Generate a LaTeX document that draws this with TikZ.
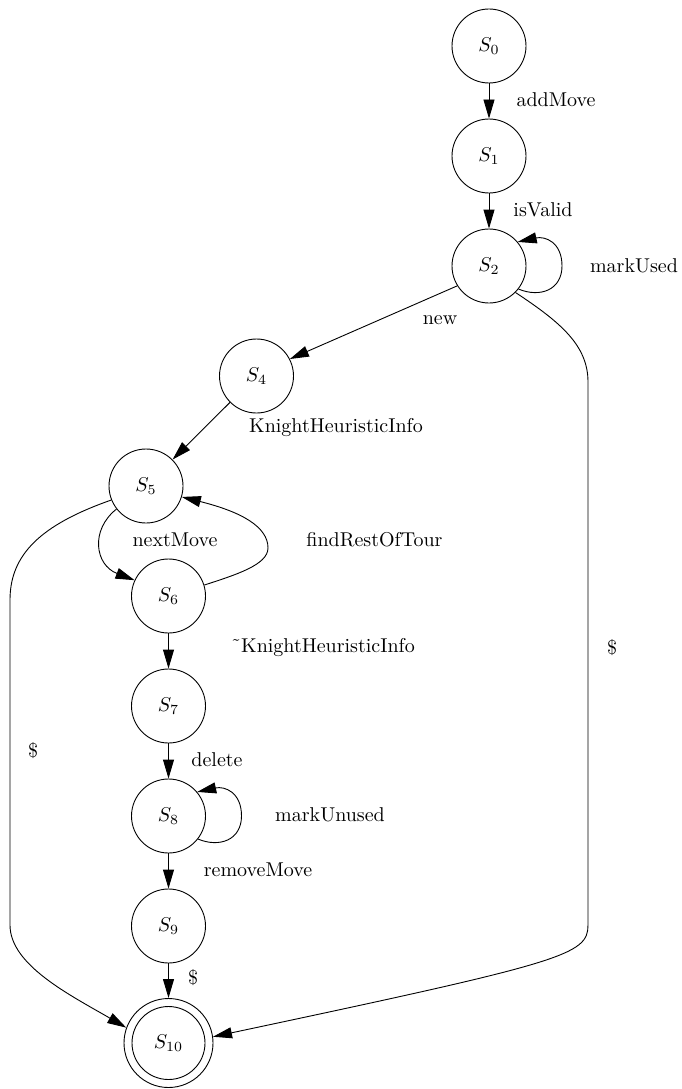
\documentclass[tikz,border=0pt]{standalone}
\usepackage{graphicx}
\usetikzlibrary{arrows.meta}
\newcommand{\sbx}[1]{\scalebox{2}{#1}}
\begin{document}
\begin{tikzpicture}[x=1pt,y=-1pt,
  state/.style={circle,draw,line width=0.9pt,minimum size=74pt,inner sep=0pt},
  final/.style={state,minimum size=89pt},
  lbl/.style={inner sep=0pt},
  edge/.style={line width=0.9pt,-{Triangle[length=19pt,width=11pt]}}]
\useasboundingbox (0,0) rectangle (681,1089);
% states
\node[state] (S0) at (489,46) {\sbx{$S_0$}};
\node[state] (S1) at (489,156) {\sbx{$S_1$}};
\node[state] (S2) at (489,266) {\sbx{$S_2$}};
\node[state] (S4) at (256.5,376) {\sbx{$S_4$}};
\node[state] (S5) at (146,486) {\sbx{$S_5$}};
\node[state] (S6) at (168.5,596) {\sbx{$S_6$}};
\node[state] (S7) at (168.5,706) {\sbx{$S_7$}};
\node[state] (S8) at (168.5,816) {\sbx{$S_8$}};
\node[state] (S9) at (168.5,926) {\sbx{$S_9$}};
\node[final] (S10) at (168.5,1043) {\sbx{$S_{10}$}};
\draw[line width=0.9pt] (S10.center) circle (36.5pt);
% edges
\draw[edge] (S0) -- (S1);
\draw[edge] (S1) -- (S2);
\draw[edge] (S2.-38) .. controls (540,298) and (562,290) .. (562,266) .. controls (562,242) and (545,236) .. (S2.40);
\draw[edge] (S2.212) -- (S4.27);
\draw[edge] (S2.-45) .. controls (560,322) and (588,345) .. (588,382) -- (588,925) .. controls (588,955) and (565,962) .. (S10.8);
\draw[edge] (S4) -- (S5);
\draw[edge] (S5.218) .. controls (90,530) and (95,565) .. (S6.155);
\draw[edge] (S6.17) .. controls (235,575) and (268,565) .. (268,548) .. controls (268,527) and (242,512) .. (S5.-17);
\draw[edge] (S5.202) .. controls (40,525) and (10,555) .. (10,600) -- (10,925) .. controls (10,965) and (70,995) .. (S10.160);
\draw[edge] (S6) -- (S7);
\draw[edge] (S7) -- (S8);
\draw[edge] (S8.-38) .. controls (219.5,848) and (241.5,840) .. (241.5,816) .. controls (241.5,792) and (224.5,786) .. (S8.40);
\draw[edge] (S8) -- (S9);
\draw[edge] (S9) -- (S10);
% labels
\node[lbl] (l01) at (556,100) {\sbx{addMove}};
\node[lbl] (l12) at (543,210) {\sbx{isValid}};
\node[lbl] (l22) at (634,266) {\sbx{markUsed}};
\node[lbl] (l24) at (440,320) {\sbx{new}};
\node[lbl] (l210) at (612,648) {\sbx{\$}};
\node[lbl] (l45) at (336,428) {\sbx{KnightHeuristicInfo}};
\node[lbl] (l56) at (175,540) {\sbx{nextMove}};
\node[lbl] (l65) at (374.5,540) {\sbx{findRestOfTour}};
\node[lbl] (l510) at (33,751) {\sbx{\$}};
\node[lbl] (l67) at (323,648) {\sbx{˜KnightHeuristicInfo}};
\node[lbl] (l78) at (217,760) {\sbx{delete}};
\node[lbl] (l88) at (330,815) {\sbx{markUnused}};
\node[lbl] (l89) at (258,870) {\sbx{removeMove}};
\node[lbl] (l910) at (193,978) {\sbx{\$}};
\end{tikzpicture}
\end{document}
